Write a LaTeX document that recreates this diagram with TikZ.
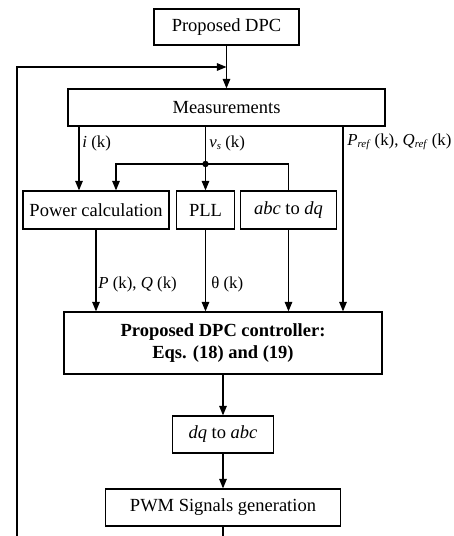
\documentclass[tikz,border=0pt]{standalone}
\usepackage{fontspec}
\setmainfont{Liberation Serif}
\usetikzlibrary{arrows.meta}

\newcommand{\subx}[1]{\raisebox{-0.3ex}{\fontsize{5.4}{6}\selectfont\textit{#1}}}

\tikzset{
  blk/.style={draw,line width=0.6pt,inner sep=0pt,align=center,font=\fontsize{9.25}{11}\selectfont},
  sig/.style={-{Triangle[length=4.8pt,width=3.8pt]},line width=0.6pt},
  wire/.style={line width=0.6pt},
  lbl/.style={anchor=west,inner sep=0pt,font=\fontsize{8.4}{10}\selectfont}
}

\begin{document}
\begin{tikzpicture}[x=0.5pt,y=-0.5pt]
  \useasboundingbox (0,0) rectangle (454,536);
  \node[blk,minimum width=72.5pt,minimum height=18pt] (dpc) at (226.5,27) {Proposed DPC};
  \node[blk,minimum width=158.5pt,minimum height=18.5pt] (meas) at (226.5,107.5) {Measurements};
  \node[blk,minimum width=73pt,minimum height=19pt] (power) at (96,210) {Power calculation};
  \node[blk,minimum width=29pt,minimum height=19pt] (pll) at (205.5,210) {PLL};
  \node[blk,minimum width=48pt,minimum height=19pt] (abcdq) at (288.5,210) {\textit{abc} to \textit{dq}};
  \node[blk,minimum width=159pt,minimum height=31pt,font=\fontsize{9.25}{11}\selectfont\bfseries] (ctrl) at (223,343) {Proposed DPC controller:\\Eqs. (18) and (19)};
  \node[blk,minimum width=50.5pt,minimum height=18.5pt] (dqabc) at (223,434.5) {\textit{dq} to \textit{abc}};
  \node[blk,minimum width=117.5pt,minimum height=18.5pt] (pwm) at (223,507.5) {PWM Signals generation};
  \coordinate (fbL) at (17,536);
  \coordinate (fbT) at (226.5,67);
  \coordinate (jn) at (205.5,164);
  \draw[sig] (dpc) -- (meas);
  \draw[sig] (fbL) |- (fbT);
  \draw[sig] (meas.south -| 79,0) -- (power.north -| 79,0);
  \draw[wire] (meas.south -| jn) -- (jn);
  \draw[sig] (jn) -- (pll);
  \draw[sig] (jn) -| (power.north -| 116,0);
  \draw[wire] (jn) -| (abcdq);
  \fill (jn) circle [radius=1.6pt];
  \draw[sig] (meas.south -| 343,0) -- (ctrl.north -| 343,0);
  \draw[sig] (power) -- (power |- ctrl.north);
  \draw[sig] (pll) -- (pll |- ctrl.north);
  \draw[sig] (abcdq) -- (abcdq |- ctrl.north);
  \draw[sig] (ctrl) -- (dqabc);
  \draw[sig] (dqabc) -- (pwm);
  \draw[wire] (pwm) -- (pwm |- fbL);
  \node[lbl] (li) at (82,143) {\textit{i} (k)};
  \node[lbl] (lv) at (209,143) {\textit{v}\subx{s} (k)};
  \node[lbl] (lref) at (347,142) {\textit{P}\subx{ref} (k), \textit{Q}\subx{ref} (k)};
  \node[lbl] (lpq) at (98,284) {\textit{P} (k), \textit{Q} (k)};
  \node[lbl] (lth) at (211,284) {θ (k)};
\end{tikzpicture}
\end{document}
